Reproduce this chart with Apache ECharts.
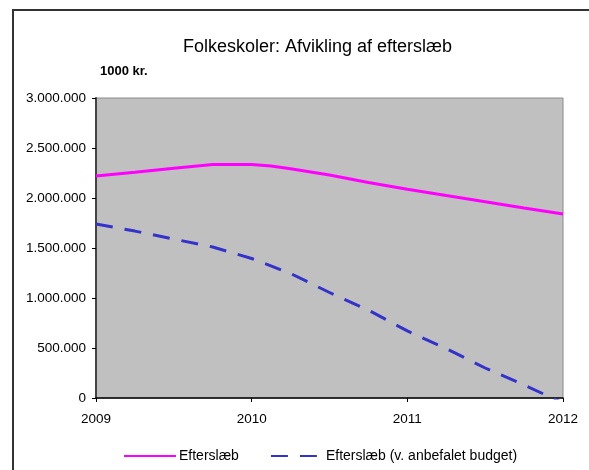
<!DOCTYPE html>
<html>
<head>
<meta charset="utf-8">
<script src="https://cdn.jsdelivr.net/npm/echarts@6/dist/echarts.min.js"></script>
<style>
html,body{margin:0;padding:0;background:#fff;}
#chart{width:589px;height:470px;}
</style>
</head>
<body>
<div id="chart"></div>
<script>
var titleText = 'Folkeskoler: Afvikling af efterslæb';
var unitText = '1000 kr.';
var seriesNames = ['Efterslæb', 'Efterslæb (v. anbefalet budget)'];
var xMin = 2009, xMax = 2012, xStep = 1;
var yMin = 0, yMax = 3000000, yStep = 500000;

var years1 = [2009, 2009.25, 2009.5, 2009.75, 2010, 2010.125, 2010.25, 2010.5, 2010.75, 2011, 2011.25, 2011.5, 2011.75, 2012];
var values1 = [2220000, 2258000, 2297000, 2335000, 2335000, 2320000, 2292000, 2230000, 2155000, 2088000, 2024000, 1963000, 1901000, 1840000];

var years2 = [2009, 2009.25, 2009.5, 2009.75, 2010, 2010.25, 2010.5, 2010.75, 2011, 2011.25, 2011.5, 2011.75, 2012];
var values2 = [1740000, 1669000, 1589000, 1510000, 1395000, 1245000, 1055000, 878000, 671000, 494000, 300000, 130000, -50000];

function pairs(xs, ys) { return xs.map(function (x, i) { return [x, ys[i]]; }); }
function fmt(v) { return String(v).replace(/\B(?=(\d{3})+(?!\d))/g, '.'); }

var FONT = 'Liberation Sans, Arial, sans-serif';
var chart = echarts.init(document.getElementById('chart'), null, {renderer: 'canvas'});
chart.setOption({
  animation: false,
  backgroundColor: '#fff',
  textStyle: {fontFamily: FONT},
  graphic: [{
    type: 'rect', silent: true, z: -1,
    shape: {x: 13, y: 10, width: 600, height: 500},
    style: {fill: 'none', stroke: '#333', lineWidth: 2}
  }],
  title: [{
    text: titleText, left: 183, top: 38, padding: 0,
    textStyle: {fontFamily: FONT, fontSize: 18, fontWeight: 'normal', color: '#000'}
  }, {
    text: unitText, left: 100, top: 65, padding: 0,
    textStyle: {fontFamily: FONT, fontSize: 13, fontWeight: 'bold', color: '#000'}
  }],
  legend: {
    left: 123, top: 449, padding: 0, itemWidth: 52, itemHeight: 14, itemGap: 31,
    itemStyle: {opacity: 0},
    textStyle: {fontFamily: FONT, fontSize: 14, color: '#000', padding: [0, 0, 0, -2]},
    data: seriesNames
  },
  grid: {
    left: 96, right: 26, top: 98, bottom: 72,
    show: true, backgroundColor: '#C0C0C0', borderColor: '#8a8a8a', borderWidth: 1
  },
  xAxis: {
    type: 'value', min: xMin, max: xMax, interval: xStep,
    axisLine: {show: true, onZero: false, lineStyle: {color: '#000', width: 1.5}},
    axisTick: {show: true, length: 4, lineStyle: {color: '#000'}},
    splitLine: {show: false},
    axisLabel: {fontFamily: FONT, fontSize: 13.5, color: '#000', margin: 14, formatter: function (v) { return String(v); }}
  },
  yAxis: {
    type: 'value', min: yMin, max: yMax, interval: yStep,
    axisLine: {show: true, lineStyle: {color: '#444', width: 2}},
    axisTick: {show: true, length: 4, lineStyle: {color: '#000'}},
    splitLine: {show: false},
    axisLabel: {fontFamily: FONT, fontSize: 13.5, color: '#000', margin: 10, formatter: fmt}
  },
  series: [{
    name: seriesNames[0], type: 'line', data: pairs(years1, values1),
    showSymbol: false, symbol: 'none', clip: true,
    lineStyle: {color: '#FF00FF', width: 3},
    itemStyle: {color: '#FF00FF'}
  }, {
    name: seriesNames[1], type: 'line', data: pairs(years2, values2),
    showSymbol: false, symbol: 'none', clip: true,
    lineStyle: {color: '#3333CC', width: 3, type: [17, 12]},
    itemStyle: {color: '#3333CC'}
  }]
});
</script>
</body>
</html>
